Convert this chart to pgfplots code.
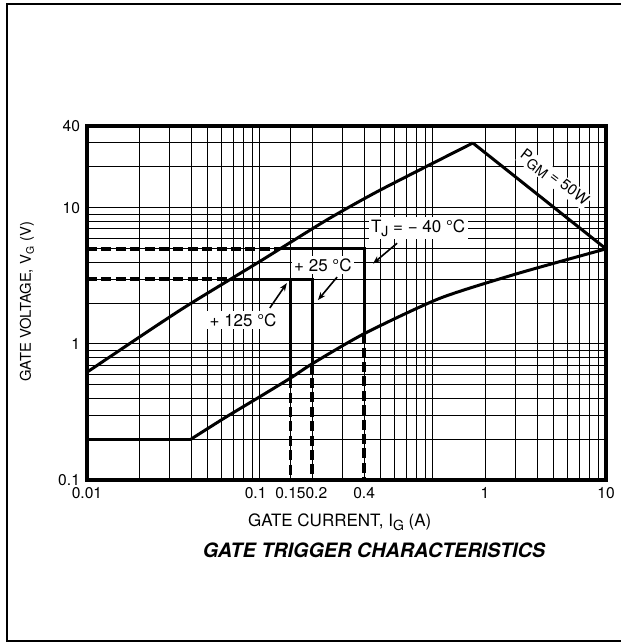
\documentclass[border=0pt]{standalone}
\usepackage{fontspec}
\setmainfont{TeX Gyre Heros}
\usepackage{pgfplots}
\pgfplotsset{compat=1.18}
\usetikzlibrary{arrows.meta}
\tikzset{thickdash/.style={draw=black, solid, line width=1.8pt, dash pattern={on 5pt off 2.2pt}}}
\newcommand{\sub}[1]{\raisebox{-0.45ex}{\fontsize{7}{8}\selectfont #1}}
\begin{document}
\begin{tikzpicture}
\begin{axis}[
  xmode=log, ymode=log,
  scale only axis, width=259.5pt, height=177pt,
  xmin=0.01, xmax=10, ymin=0.1, ymax=40,
  xtick={0.01,0.1,0.15,0.2,0.4,2,10},
  xticklabels={0.01,0.1\hphantom{0},0.15,\hphantom{0}0.2,0.4,1,10},
  ytick={0.1,1,10,40},
  yticklabels={0.1,1,10,40},
  minor xtick={0.02,0.03,0.04,0.05,0.06,0.07,0.08,0.09,0.3,0.5,0.6,0.7,0.8,0.9,1,3,4,5,6,7,8,9},
  minor ytick={0.2,0.3,0.4,0.5,0.6,0.7,0.8,0.9,2,3,4,5,6,7,8,9,20,30},
  grid=both,
  major grid style={black, line width=0.5pt},
  minor grid style={black, line width=0.5pt},
  major tick length=0pt, minor tick length=0pt,
  axis line style={line width=1.6pt},
  tick label style={font=\fontsize{7.8}{9}\selectfont},
  xlabel={GATE CURRENT, I\sub{G} (A)},
  ylabel={GATE VOLTAGE, V\textsubscript{G} (V)},
  xlabel style={font=\fontsize{8.5}{10}\selectfont, at={(axis description cs:0.487,0)}, anchor=center, yshift=-21pt},
  ylabel style={font=\fontsize{7.4}{9}\selectfont, at={(axis description cs:-0.1156,0.503)}, anchor=center},
  clip=false,
]
% upper curve and P_GM line
\addplot[black, line width=1.5pt, smooth, tension=0.4] coordinates {
  (0.01,0.62) (0.0345,1.77) (0.1,4.05) (0.243,8.15) (0.494,13.5) (1.7,30)};
\addplot[black, line width=1.5pt] coordinates {(1.7,30) (10,5)};
% lower curve
\addplot[black, line width=1.5pt] coordinates {(0.01,0.2) (0.04,0.2)};
\addplot[black, line width=1.5pt, smooth, tension=0.4] coordinates {
  (0.04,0.2) (0.063,0.288) (0.1,0.41) (0.153,0.57) (0.202,0.72) (0.405,1.2) (1.1,2.17) (3.1,3.3) (10,5)};
% -40 C
\addplot[thickdash] coordinates {(0.01,5) (0.131,5)};
\addplot[black, line width=1.5pt] coordinates {(0.131,5) (0.4,5) (0.4,1.2)};
\addplot[thickdash] coordinates {(0.4,1.2) (0.4,0.1)};
% +25 / +125 C
\addplot[thickdash] coordinates {(0.01,3) (0.067,3)};
\addplot[black, line width=1.5pt] coordinates {(0.067,3) (0.2,3) (0.2,0.716)};
\addplot[black, line width=1.5pt] coordinates {(0.15,3) (0.15,0.56)};
\addplot[thickdash] coordinates {(0.2,0.716) (0.2,0.1)};
\addplot[thickdash] coordinates {(0.15,0.56) (0.15,0.1)};
% labels
\node[fill=white, inner sep=1.2pt, font=\fontsize{8.5}{10}\selectfont] at (axis cs:0.0798,1.5) {+ 125 °C};
\node[fill=white, inner sep=1.2pt, font=\fontsize{8.5}{10}\selectfont] at (axis cs:0.231,3.8) {+ 25 °C};
\node[fill=white, inner sep=1.2pt, font=\fontsize{8.5}{10}\selectfont] at (axis cs:0.82,7.1) {T\sub{J} = − 40 °C};
\node[fill=white, inner sep=0.6pt, rotate=-37, font=\fontsize{7.6}{9}\selectfont] at (axis cs:5.0,16.5) {P\sub{GM} = 50W};
\draw[line width=0.8pt, -{Stealth[length=4pt,width=3pt]}] (axis cs:0.114,1.84) -- (axis cs:0.143,2.8);
\draw[line width=0.8pt, -{Stealth[length=4pt,width=3pt]}] (axis cs:0.279,3.1) -- (axis cs:0.216,2.1);
\draw[line width=0.8pt, -{Stealth[length=4pt,width=3pt]}] (axis cs:0.62,5.5) -- (axis cs:0.45,3.9);
\end{axis}
\node[font=\bfseries\itshape\fontsize{9.9}{11}\selectfont] at (143.5pt,-35pt) {GATE TRIGGER CHARACTERISTICS};
\draw[line width=1.3pt] (267pt,238pt) -- (-40pt,238pt) -- (-40pt,-80.5pt) -- (267pt,-80.5pt);
\pgfresetboundingbox
\path[use as bounding box] (-43.5pt,-82pt) rectangle (267pt,240pt);
\end{tikzpicture}
\end{document}
